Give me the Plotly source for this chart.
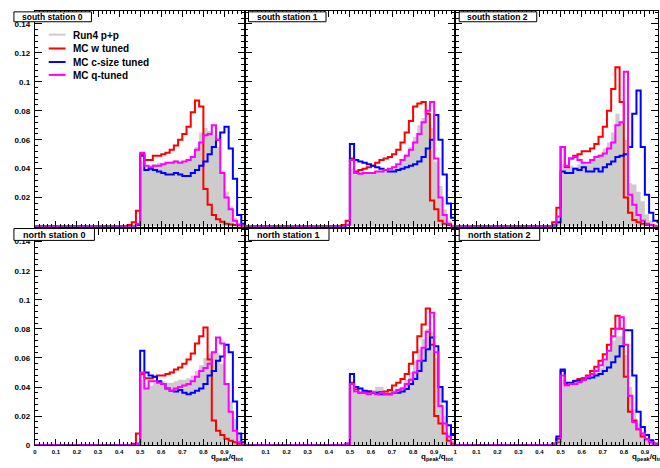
import plotly.graph_objects as go

# ---------------- data ----------------
x_first_listed = 0.40   # bins below 0.40 are empty in every panel
bin_width = 0.02
n_empty_lead = 20

panel_titles = ["south station 0", "south station 1", "south station 2",
                "north station 0", "north station 1", "north station 2"]
series_names = ["Run4 p+p", "MC w tuned", "MC c-size tuned", "MC q-tuned"]
series_colors = ["#cccccc", "#ff0000", "#0000ff", "#ff00ff"]

x_tick_vals = [0, 0.1, 0.2, 0.3, 0.4, 0.5, 0.6, 0.7, 0.8, 0.9, 1.0]
x_tick_text = ["0", "0.1", "0.2", "0.3", "0.4", "0.5", "0.6", "0.7", "0.8", "0.9", "1"]
y_tick_vals = [0, 0.02, 0.04, 0.06, 0.08, 0.1, 0.12, 0.14]
y_tick_text = ["0", "0.02", "0.04", "0.06", "0.08", "0.1", "0.12", "0.14"]
y_max = 0.149

# bins 0.40 ... 0.98 (30 values each)
s0_run4 = [0, 0, 0, 0, 0.001, 0.045, 0.040, 0.042, 0.043, 0.044, 0.043, 0.044, 0.045, 0.046, 0.044,
           0.044, 0.045, 0.048, 0.055, 0.065, 0.068, 0.066, 0.063, 0.055, 0.038, 0.024, 0.014, 0.006, 0.002, 0.001]
s0_w = [0, 0, 0.001, 0.003, 0.011, 0.050, 0.046, 0.046, 0.049, 0.049, 0.050, 0.051, 0.053, 0.056, 0.060,
        0.064, 0.069, 0.079, 0.087, 0.083, 0.026, 0.015, 0.008, 0.005, 0.0034, 0.002, 0.0015, 0.001, 0.0005, 0]
s0_c = [0, 0, 0, 0, 0.001, 0.049, 0.039, 0.040, 0.039, 0.038, 0.037, 0.036, 0.036, 0.037, 0.036,
        0.035, 0.035, 0.037, 0.039, 0.042, 0.045, 0.050, 0.055, 0.060, 0.065, 0.069, 0.054, 0.033, 0.008, 0.002]
s0_q = [0, 0, 0, 0, 0.002, 0.051, 0.042, 0.041, 0.042, 0.042, 0.043, 0.044, 0.044, 0.045, 0.044,
        0.045, 0.046, 0.048, 0.053, 0.058, 0.063, 0.064, 0.070, 0.060, 0.037, 0.020, 0.012, 0.004, 0.0015, 0]

s1_run4 = [0, 0, 0, 0, 0.001, 0.040, 0.036, 0.037, 0.037, 0.037, 0.037, 0.038, 0.038, 0.038, 0.039,
           0.040, 0.042, 0.045, 0.050, 0.055, 0.062, 0.070, 0.075, 0.080, 0.068, 0.045, 0.028, 0.012, 0.004, 0.001]
s1_w = [0, 0, 0, 0.001, 0.004, 0.047, 0.038, 0.039, 0.040, 0.041, 0.042, 0.044, 0.046, 0.047, 0.048,
        0.050, 0.053, 0.058, 0.065, 0.073, 0.083, 0.085, 0.086, 0.078, 0.018, 0.012, 0.004, 0.002, 0.001, 0]
s1_c = [0, 0, 0, 0, 0.001, 0.057, 0.046, 0.045, 0.044, 0.043, 0.042, 0.041, 0.040, 0.039, 0.038,
        0.038, 0.039, 0.040, 0.041, 0.042, 0.043, 0.045, 0.048, 0.054, 0.060, 0.077, 0.060, 0.036, 0.016, 0.006]
s1_q = [0, 0, 0, 0, 0.001, 0.046, 0.037, 0.0365, 0.037, 0.037, 0.037, 0.038, 0.038, 0.039, 0.040,
        0.041, 0.043, 0.046, 0.049, 0.053, 0.058, 0.064, 0.072, 0.080, 0.086, 0.047, 0.020, 0.008, 0.002, 0]

s2_run4 = [0, 0, 0, 0.001, 0.003, 0.043, 0.040, 0.042, 0.041, 0.043, 0.044, 0.043, 0.046, 0.047, 0.050,
           0.054, 0.058, 0.065, 0.078, 0.072, 0.060, 0.030, 0.029, 0.024, 0.0175, 0.0084, 0.004, 0.002, 0.001, 0]
s2_w = [0, 0, 0, 0.003, 0.013, 0.055, 0.041, 0.047, 0.049, 0.050, 0.052, 0.052, 0.054, 0.057, 0.062,
        0.069, 0.080, 0.095, 0.110, 0.086, 0.020, 0.0096, 0.0046, 0.003, 0.002, 0.001, 0.001, 0, 0, 0]
s2_c = [0, 0, 0, 0, 0.003, 0.038, 0.037, 0.037, 0.040, 0.039, 0.041, 0.038, 0.038, 0.040, 0.038,
        0.041, 0.043, 0.045, 0.048, 0.049, 0.050, 0.055, 0.078, 0.094, 0.055, 0.022, 0.0096, 0.004, 0.003, 0.002]
s2_q = [0, 0, 0, 0.001, 0.007, 0.055, 0.042, 0.047, 0.048, 0.046, 0.044, 0.044, 0.046, 0.048, 0.049,
        0.0505, 0.054, 0.058, 0.070, 0.072, 0.107, 0.022, 0.015, 0.008, 0.004, 0.002, 0.001, 0, 0, 0]

n0_run4 = [0, 0, 0, 0, 0.001, 0.045, 0.039, 0.041, 0.043, 0.044, 0.044, 0.043, 0.043, 0.044, 0.045,
           0.045, 0.046, 0.048, 0.051, 0.055, 0.060, 0.063, 0.065, 0.063, 0.056, 0.043, 0.030, 0.018, 0.007, 0.002]
n0_w = [0, 0, 0, 0.001, 0.008, 0.049, 0.046, 0.046, 0.047, 0.048, 0.048, 0.049, 0.050, 0.052, 0.0535,
        0.056, 0.059, 0.063, 0.070, 0.075, 0.081, 0.059, 0.017, 0.010, 0.007, 0.0045, 0.003, 0.002, 0.001, 0]
n0_c = [0, 0, 0, 0, 0.001, 0.065, 0.050, 0.048, 0.047, 0.044, 0.042, 0.039, 0.0375, 0.037, 0.038,
        0.036, 0.035, 0.036, 0.0375, 0.039, 0.042, 0.048, 0.051, 0.058, 0.061, 0.069, 0.064, 0.030, 0.008, 0.002]
n0_q = [0, 0, 0, 0, 0.001, 0.050, 0.039, 0.044, 0.044, 0.043, 0.042, 0.039, 0.0375, 0.039, 0.040,
        0.041, 0.042, 0.044, 0.047, 0.051, 0.053, 0.056, 0.064, 0.074, 0.070, 0.042, 0.023, 0.010, 0.002, 0]

n1_run4 = [0, 0, 0, 0, 0.001, 0.040, 0.036, 0.037, 0.037, 0.037, 0.038, 0.040, 0.040, 0.037, 0.037,
           0.038, 0.039, 0.040, 0.045, 0.050, 0.058, 0.066, 0.073, 0.080, 0.078, 0.060, 0.040, 0.020, 0.008, 0.003]
n1_w = [0, 0, 0, 0, 0.001, 0.043, 0.0385, 0.036, 0.036, 0.037, 0.036, 0.036, 0.0365, 0.037, 0.038,
        0.041, 0.043, 0.0455, 0.049, 0.056, 0.064, 0.075, 0.083, 0.094, 0.069, 0.020, 0.015, 0.008, 0.003, 0.001]
n1_c = [0, 0, 0, 0, 0.001, 0.049, 0.040, 0.039, 0.0375, 0.037, 0.036, 0.036, 0.035, 0.035, 0.035,
        0.036, 0.036, 0.037, 0.0387, 0.042, 0.0455, 0.051, 0.058, 0.066, 0.074, 0.068, 0.040, 0.030, 0.0137, 0.007]
n1_q = [0, 0, 0, 0, 0.001, 0.042, 0.037, 0.036, 0.036, 0.035, 0.036, 0.035, 0.036, 0.035, 0.035,
        0.036, 0.038, 0.039, 0.042, 0.045, 0.050, 0.058, 0.067, 0.078, 0.091, 0.064, 0.027, 0.015, 0.006, 0.001]

n2_run4 = [0, 0, 0, 0.001, 0.004, 0.045, 0.040, 0.042, 0.043, 0.045, 0.047, 0.046, 0.048, 0.050, 0.053,
           0.058, 0.065, 0.072, 0.075, 0.075, 0.062, 0.040, 0.025, 0.015, 0.009, 0.005, 0.003, 0.001, 0, 0]
n2_w = [0, 0, 0, 0.001, 0.0045, 0.051, 0.042, 0.042, 0.0444, 0.0455, 0.046, 0.048, 0.051, 0.054, 0.058,
        0.0626, 0.069, 0.080, 0.089, 0.080, 0.047, 0.023, 0.017, 0.011, 0.006, 0.004, 0.002, 0.001, 0, 0]
n2_c = [0, 0, 0, 0.001, 0.006, 0.052, 0.043, 0.043, 0.044, 0.0444, 0.045, 0.046, 0.0466, 0.048, 0.049,
        0.051, 0.0535, 0.057, 0.061, 0.068, 0.079, 0.079, 0.048, 0.023, 0.0125, 0.007, 0.0034, 0.001, 0, 0]
n2_q = [0, 0, 0, 0.001, 0.002, 0.048, 0.041, 0.042, 0.042, 0.0435, 0.045, 0.047, 0.049, 0.051, 0.055,
        0.059, 0.065, 0.075, 0.080, 0.088, 0.069, 0.034, 0.016, 0.011, 0.008, 0.004, 0.002, 0.001, 0, 0]

panel_series = [
    [s0_run4, s0_w, s0_c, s0_q],
    [s1_run4, s1_w, s1_c, s1_q],
    [s2_run4, s2_w, s2_c, s2_q],
    [n0_run4, n0_w, n0_c, n0_q],
    [n1_run4, n1_w, n1_c, n1_q],
    [n2_run4, n2_w, n2_c, n2_q],
]

# ---------------- layout geometry (pixels) ----------------
W, H = 660, 468
col_px = [(33, 244), (244, 456), (456, 668)]
row_px = [(11, 229), (231, 450)]
title_boxes = [(12, 90, 12, 22), (248, 326, 12, 22), (460, 538, 12, 22),
               (12, 93, 231, 243), (248, 329, 231, 243), (460, 541, 231, 243)]

FONT = "Liberation Sans, Arial, Helvetica, sans-serif"


def px_x(p):
    return p / W


def px_y(p):
    return 1 - p / H


edges = [round(i * bin_width, 4) for i in range(51)]

fig = go.Figure()
layout = dict(width=W, height=H, margin=dict(l=0, r=0, t=0, b=0),
              paper_bgcolor="white", plot_bgcolor="white", showlegend=False,
              font=dict(family=FONT, color="black", size=8))
shapes = []
annotations = []

for p in range(6):
    r, c = divmod(p, 3)
    ax = "" if p == 0 else str(p + 1)
    x0p, x1p = col_px[c]
    y0p, y1p = row_px[r]
    unit = 212.0
    x1_dom = min(x1p, W)
    xr = [0, (x1_dom - x0p) / unit]
    layout["xaxis" + ax] = dict(
        domain=[px_x(x0p), px_x(x1_dom)], range=xr, anchor="y" + ax,
        showline=True, linecolor="black", linewidth=1, mirror="allticks",
        ticks="inside", ticklen=6, tickwidth=1, tickcolor="black",
        tickvals=(x_tick_vals if c == 0 else x_tick_vals[1:]),
        ticktext=(x_tick_text if c == 0 else x_tick_text[1:]),
        showticklabels=(r == 1), tickfont=dict(size=6, family=FONT, weight="bold"),
        ticklabelstandoff=1,
        minor=dict(dtick=0.02, tick0=0, ticklen=3, ticks="inside", tickcolor="black", tickwidth=1),
        showgrid=False, zeroline=False, fixedrange=True)
    layout["yaxis" + ax] = dict(
        domain=[px_y(y1p), px_y(y0p)], range=[0, y_max], anchor="x" + ax,
        showline=True, linecolor="black", linewidth=1, mirror="allticks",
        ticks="inside", ticklen=7, tickwidth=1, tickcolor="black",
        tickvals=(y_tick_vals if r == 1 else y_tick_vals[1:]),
        ticktext=(y_tick_text if r == 1 else y_tick_text[1:]),
        showticklabels=(c == 0), tickfont=dict(size=8, family=FONT, weight="bold"),
        ticklabelstandoff=2,
        minor=dict(dtick=0.004, tick0=0, ticklen=3.5, ticks="inside", tickcolor="black", tickwidth=1),
        showgrid=False, zeroline=False, fixedrange=True)

    for s, vals in enumerate(panel_series[p]):
        full = [0.0] * n_empty_lead + list(vals)
        xs = edges[:50] + [edges[50]]
        ys = full + [full[-1]]
        if s == 0:
            fig.add_trace(go.Scatter(x=xs, y=ys, mode="lines", line_shape="hv",
                                     line=dict(width=0, color=series_colors[0]),
                                     fill="tozeroy", fillcolor=series_colors[0],
                                     xaxis="x" + ax, yaxis="y" + ax, name=series_names[0],
                                     hoverinfo="skip"))
        else:
            fig.add_trace(go.Scatter(x=xs, y=ys, mode="lines", line_shape="hv",
                                     line=dict(width=2, color=series_colors[s]),
                                     xaxis="x" + ax, yaxis="y" + ax, name=series_names[s],
                                     hoverinfo="skip"))

    # axis title on bottom row
    if r == 1:
        annotations.append(dict(x=px_x(x1p), y=px_y(462), xref="paper", yref="paper",
                                xanchor="right", yanchor="middle", showarrow=False,
                                text="q<sub>peak</sub>/q<sub>tot</sub>",
                                font=dict(size=8, family=FONT, weight="bold")))

    # title box
    bx0, bx1, by0, by1 = title_boxes[p]
    shapes.append(dict(type="rect", xref="paper", yref="paper", layer="above",
                       x0=px_x(bx0), x1=px_x(bx1), y0=px_y(by1), y1=px_y(by0),
                       fillcolor="white", line=dict(color="black", width=1)))
    annotations.append(dict(x=px_x((bx0 + bx1) / 2), y=px_y((by0 + by1) / 2 + 0.5),
                            xref="paper", yref="paper", xanchor="center", yanchor="middle",
                            showarrow=False, text=panel_titles[p],
                            font=dict(size=8.5 if r == 0 else 9, family=FONT, weight="bold")))

# legend (drawn in first panel)
leg_y = [35, 49, 62.7, 75.7]
for s in range(4):
    shapes.append(dict(type="line", xref="paper", yref="paper", layer="above",
                       x0=px_x(47), x1=px_x(64), y0=px_y(leg_y[s]), y1=px_y(leg_y[s]),
                       line=dict(color=series_colors[s], width=2)))
    annotations.append(dict(x=px_x(69), y=px_y(leg_y[s] + 0.5), xref="paper", yref="paper",
                            xanchor="left", yanchor="middle", showarrow=False,
                            text=series_names[s], font=dict(size=10, family=FONT, weight="bold")))

layout["shapes"] = shapes
layout["annotations"] = annotations
fig.update_layout(**layout)

fig.write_html("out.html", config={"displayModeBar": False},
               post_script="document.body.style.margin='0';document.body.style.overflow='hidden';")
